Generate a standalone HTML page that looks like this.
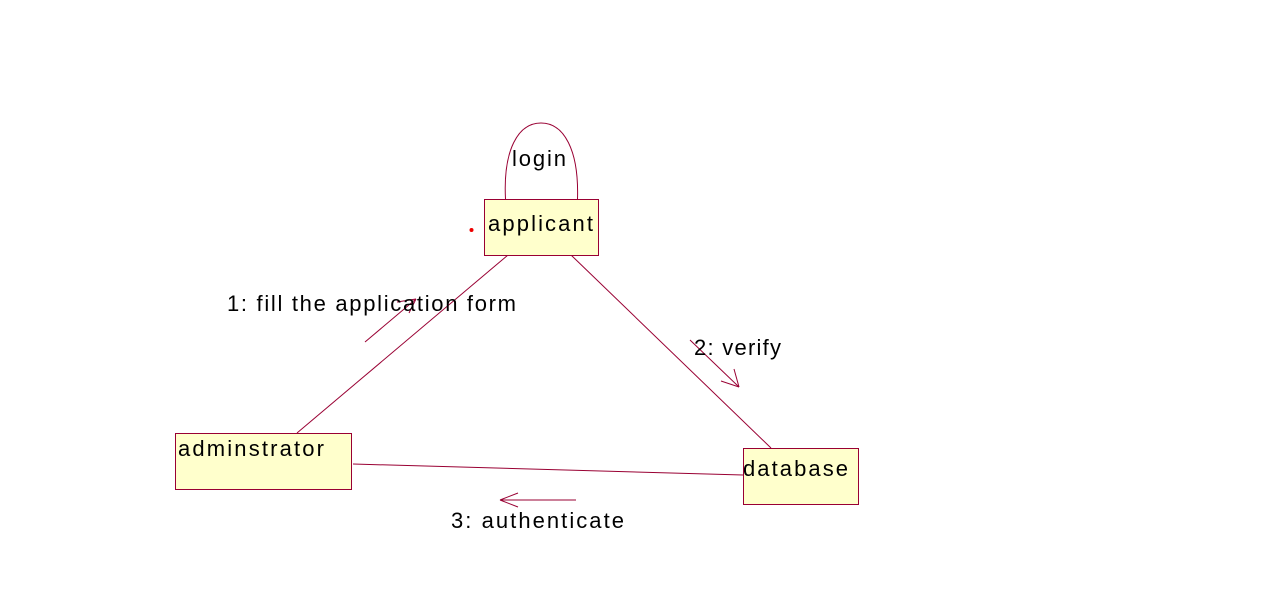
<!DOCTYPE html>
<html><head><style>
html,body{margin:0;padding:0;background:#fff;}
svg{display:block;}
text{font-family:"Liberation Sans",Arial,sans-serif;font-size:22px;fill:#000;}
</style></head><body>
<svg width="1267" height="612" viewBox="0 0 1267 612">
<g stroke="#990033" stroke-width="1" fill="none">
<path d="M505.5,199 C503,150 518,123 541,123 C564,123 579,150 577.5,199"/>
<line x1="508" y1="255" x2="297" y2="433"/>
<line x1="571" y1="255" x2="771" y2="448"/>
<line x1="353" y1="464" x2="743" y2="475"/>
<line x1="365" y1="342" x2="416" y2="299"/>
<line x1="416" y1="299" x2="397" y2="302"/>
<line x1="416" y1="299" x2="409" y2="313"/>
<line x1="690" y1="340" x2="739" y2="387"/>
<line x1="739" y1="387" x2="734" y2="369"/>
<line x1="739" y1="387" x2="721" y2="381"/>
<line x1="576" y1="500" x2="500" y2="500"/>
<line x1="500" y1="500" x2="518" y2="493"/>
<line x1="500" y1="500" x2="518" y2="507"/>
</g>
<g fill="#ffffcc" stroke="#990033" stroke-width="1">
<rect x="484.5" y="199.5" width="114" height="56"/>
<rect x="175.5" y="433.5" width="176" height="56"/>
<rect x="743.5" y="448.5" width="115" height="56"/>
</g>
<circle cx="471.5" cy="230" r="2" fill="#e00"/>
<text x="512" y="166" textLength="54">login</text>
<text x="488" y="231" textLength="105">applicant</text>
<text x="178" y="456" textLength="146">adminstrator</text>
<text x="743" y="476" textLength="105">database</text>
<text x="227" y="311" textLength="289">1: fill the application form</text>
<text x="694" y="355" textLength="87">2: verify</text>
<text x="451" y="528" textLength="173">3: authenticate</text>
</svg>
</body></html>
